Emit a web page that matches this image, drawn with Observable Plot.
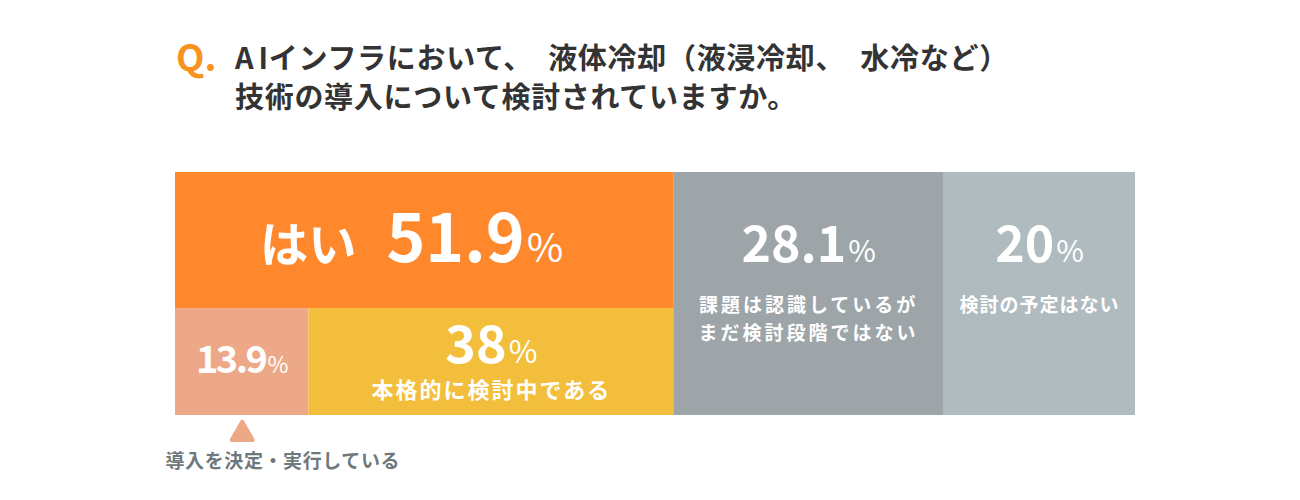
<!DOCTYPE html>
<html>
<head>
<meta charset="utf-8">
<script src="https://cdn.jsdelivr.net/npm/d3@7"></script>
<script src="https://cdn.jsdelivr.net/npm/@observablehq/plot@0.6"></script>
<style>
  html, body { margin: 0; padding: 0; background: #fff; }
  #wrap { position: relative; width: 1300px; height: 500px; font-family: "Noto Sans CJK JP", "Noto Sans", sans-serif; }
  #q { position: absolute; left: 176px; top: 37px; font-size: 37px; line-height: 37px; font-weight: 700; color: #F7931E; }
  #title { position: absolute; left: 235px; top: 37px; font-size: 29px; line-height: 39px; font-weight: 700; color: #333333; white-space: pre; letter-spacing: 0.7px; }
  #title .ai { letter-spacing: 5px; }
  #chart { position: absolute; left: 0; top: 0; }
</style>
</head>
<body>
<div id="wrap">
  <div id="chart"></div>
  <div id="q"></div>
  <div id="title"></div>
</div>
<script>
// ---- data ----
const titleMark = "Q.";
const titleLines = ["AIインフラにおいて、　液体冷却（液浸冷却、　水冷など）", "技術の導入について検討されていますか。"];

const topCategories = ["はい", "課題は認識しているが\nまだ検討段階ではない", "検討の予定はない"];
const topValues = [51.9, 28.1, 20];
const topColors = ["#FF882C", "#9DA5A8", "#B0BBC0"];

const subCategories = ["導入を決定・実行している", "本格的に検討中である"];
const subValues = [13.9, 38];
const subColors = ["#EDA987", "#F3BE3B"];

// ---- title ----
document.getElementById("q").textContent = titleMark;
const titleEl = document.getElementById("title");
titleLines.forEach((line, i) => {
  if (i) titleEl.appendChild(document.createElement("br"));
  if (line.startsWith("AI")) {
    const s = document.createElement("span");
    s.className = "ai"; s.textContent = "A";
    titleEl.appendChild(s);
    titleEl.appendChild(document.createTextNode(line.slice(1)));
  } else {
    titleEl.appendChild(document.createTextNode(line));
  }
});

// ---- build tables ----
const split = 0.56; // row split (fraction of bar height)
function stack(values) {
  let acc = 0;
  return values.map(v => { const x1 = acc; acc += v; return {x1, x2: acc, mid: (x1 + acc) / 2}; });
}
const topStack = stack(topValues);
const topRows = topCategories.map((c, i) => ({
  category: c, value: topValues[i], color: topColors[i], ...topStack[i],
  y1: 0, y2: i === 0 ? split : 1
}));
const subStack = stack(subValues);
const subRows = subCategories.map((c, i) => ({
  category: c, value: subValues[i], color: subColors[i], ...subStack[i],
  y1: split, y2: 1
}));
const fmt = v => `${v}%`;

const font = "Noto Sans CJK JP";

const chart = Plot.plot({
  width: 1300,
  height: 500,
  margin: 0,
  style: {background: "transparent", fontFamily: font},
  x: {domain: [0, 100], range: [175, 1135], axis: null},
  y: {domain: [0, 1], range: [172, 415], axis: null},
  marks: [
    Plot.rect(topRows, {x1: "x1", x2: "x2", y1: "y1", y2: "y2", fill: "color"}),
    Plot.rect(subRows, {x1: "x1", x2: "x2", y1: "y1", y2: "y2", fill: "color"}),
    // "はい 51.9%"
    Plot.text(topRows.slice(0, 1), {x: "mid", y: () => 0.37, text: d => `${d.category} ${fmt(d.value)}`,
      fill: "white", fontSize: 66, fontWeight: 700, lineAnchor: "bottom", dx: -13}),
    // gray values
    Plot.text(topRows.slice(1), {x: "mid", y: () => 0.37, text: d => fmt(d.value),
      fill: "white", fontSize: 50, fontWeight: 700, lineAnchor: "bottom"}),
    // gray labels
    Plot.text(topRows.slice(1), {x: "mid", y: () => 0.56, text: "category",
      fill: "white", fontSize: 19, fontWeight: 700, lineAnchor: "top", lineHeight: 1.47, dy: -16}),
    // sub values
    Plot.text(subRows.slice(1), {x: "mid", y: () => 0.786, text: d => fmt(d.value),
      fill: "white", fontSize: 52, fontWeight: 700, lineAnchor: "bottom"}),
    Plot.text(subRows.slice(1), {x: "mid", y: () => 0.93, text: "category",
      fill: "white", fontSize: 22, fontWeight: 700, lineAnchor: "bottom"}),
    Plot.text(subRows.slice(0, 1), {x: "mid", y: () => 0.827, text: d => fmt(d.value),
      fill: "white", fontSize: 38, fontWeight: 700, lineAnchor: "bottom"}),
    // pointer triangle + label below
    Plot.dot(subRows.slice(0, 1), {x: "mid", y: () => 1.076, symbol: "triangle", r: 7.8,
      fill: "color", stroke: "color", strokeWidth: 4, strokeLinejoin: "round"}),
    Plot.text(subRows.slice(0, 1), {x: "x1", y: () => 1.214, text: "category", textAnchor: "start", dx: -10,
      fill: "#6F797D", fontSize: 19, fontWeight: 700, lineAnchor: "bottom"})
  ]
});

// post-process: mixed font sizes for values and letter-spacing for labels
const spacing = {
  "課題は認識しているがまだ検討段階ではない": "3px",
  "検討の予定はない": "1px",
  "本格的に検討中である": "2px",
  "導入を決定・実行している": "0.6px",
  "13.9%": "-2.5px"
};
d3.select(chart).selectAll("text").each(function () {
  const t = this.textContent;
  if (spacing[t]) this.setAttribute("letter-spacing", spacing[t]);
  const m = t.match(/^(?:(\S+)\s)?([\d.]+)%$/);
  if (!m) return;
  const sel = d3.select(this);
  sel.text(null);
  if (m[1]) {
    sel.append("tspan").attr("font-size", "0.73em").text(m[1]);
    sel.append("tspan").attr("dx", 30).text(m[2]);
  } else {
    sel.append("tspan").text(m[2]);
  }
  sel.append("tspan").attr("font-size", "0.6em").attr("font-weight", 400)
    .attr("dx", 2).attr("letter-spacing", "0px").text("%");
});

document.getElementById("chart").appendChild(chart);
</script>
</body>
</html>
